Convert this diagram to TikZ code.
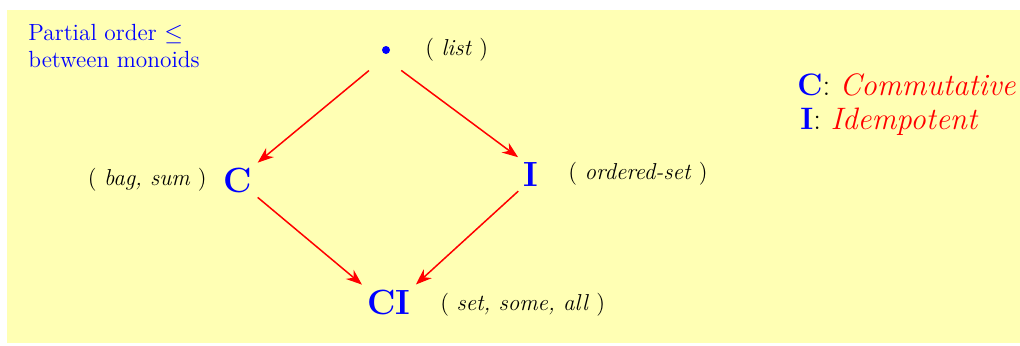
\documentclass[tikz,border=0pt]{standalone}
\usepackage{amssymb}
\usetikzlibrary{arrows.meta}
\definecolor{bgyellow}{RGB}{255,255,180}
\definecolor{myblue}{RGB}{0,0,255}
\definecolor{myred}{RGB}{255,0,0}
\tikzset{
  mono/.style={text=myblue, font=\fontsize{17.5}{20}\selectfont\bfseries, inner sep=1pt},
  note/.style={font=\fontsize{11.5}{14}\selectfont, anchor=west, inner sep=0pt},
  legend/.style={anchor=west, font=\fontsize{15.5}{18}\selectfont, inner sep=0pt},
  arr/.style={draw=myred, line width=0.75pt, -{Stealth[length=8pt,width=6pt]}, shorten >=2pt, shorten <=2pt},
}
\begin{document}
\begin{tikzpicture}[x=0.5pt,y=-0.5pt]
\useasboundingbox (0,0) rectangle (1020,345);
\fill[bgyellow] (7,10) rectangle (1020,343);
\node[anchor=north west, align=left, text=myblue, font=\fontsize{11.7}{13.5}\selectfont, inner sep=0pt] (title) at (28,24) {Partial order $\leq$\\between monoids};
\node[circle, fill=myblue, inner sep=0pt, minimum size=4pt] (L) at (386,50) {};
\node[note] (Ln) at (425,50) {( \textit{list} )};
\node[mono] (C) at (238,180) {C};
\node[note, anchor=east] (Cn) at (207,180) {( \textit{bag, sum} )};
\node[mono] (I) at (531,174) {I};
\node[note] (In) at (568,174) {( \textit{ordered-set} )};
\node[mono] (CI) at (389,302) {CI};
\node[note] (CIn) at (440,305) {( \textit{set, some, all} )};
\draw[arr] (L) ++(-14,18) -- (C.north east);
\draw[arr] (L) ++(12,18) -- (I.north west);
\draw[arr] (C.south east) -- (CI.north west);
\draw[arr] (I.south west) -- (CI.north east);
\node[legend] (legC) at (797,85) {\textcolor{myblue}{\bfseries C}: \textcolor{myred}{\itshape Commutative}};
\node[legend] (legI) at (800,122) {\textcolor{myblue}{\bfseries I}: \textcolor{myred}{\itshape Idempotent}};
\end{tikzpicture}
\end{document}
